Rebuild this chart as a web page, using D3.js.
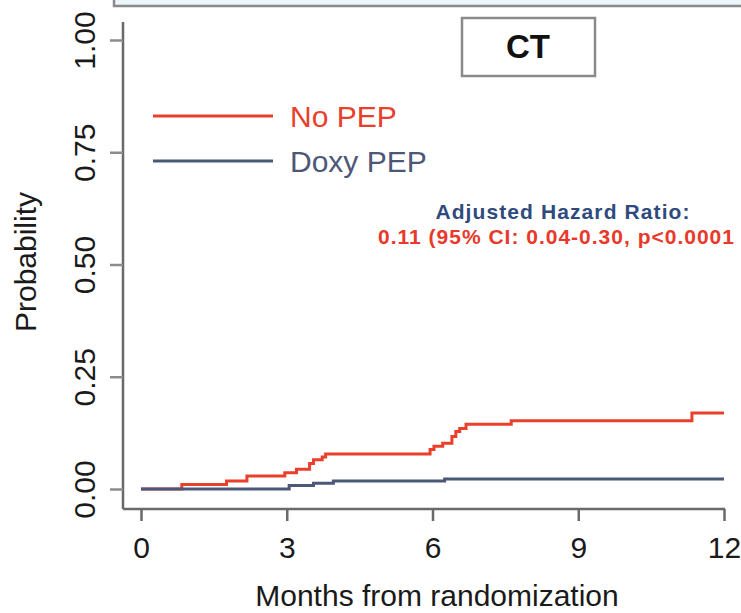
<!DOCTYPE html>
<html>
<head>
<meta charset="utf-8">
<script src="https://cdn.jsdelivr.net/npm/d3@7/dist/d3.min.js"></script>
<style>
  html, body { margin: 0; padding: 0; background: #ffffff; }
  svg { display: block; }
  text { font-family: "Liberation Sans", Arial, Helvetica, sans-serif; }
</style>
</head>
<body>
<div id="chart"></div>
<script>
// Cumulative incidence of CT, by arm (Kaplan-Meier style step curves)
const noPepMonths = [0, 0.84, 1.76, 2.18, 2.96, 3.2, 3.47, 3.55, 3.73, 3.8, 5.95, 6.03, 6.21, 6.4, 6.48, 6.56, 6.69, 7.62, 11.34, 12];
const noPepProb   = [0, 0.010, 0.018, 0.029, 0.036, 0.044, 0.057, 0.065, 0.071, 0.078, 0.088, 0.095, 0.102, 0.117, 0.128, 0.135, 0.144, 0.152, 0.169, 0.169];
const doxyMonths  = [0, 3.05, 3.55, 3.96, 6.25, 12];
const doxyProb    = [0, 0.008, 0.013, 0.018, 0.022, 0.022];

const seriesNames = ["No PEP", "Doxy PEP"];
const seriesColors = ["#ea3f2b", "#4d5778"];
const xTicks = [0, 3, 6, 9, 12];
const yTicks = [0, 0.25, 0.5, 0.75, 1];
const panelTitle = "CT";
const hrTitle = "Adjusted Hazard Ratio:";
const hrText = "0.11 (95% CI: 0.04-0.30, p<0.0001";

const W = 741, H = 613;
const svg = d3.select("#chart").append("svg").attr("width", W).attr("height", H);
svg.append("rect").attr("width", W).attr("height", H).attr("fill", "#ffffff");

const x = d3.scaleLinear().domain([0, 12]).range([141, 724]);
const y = d3.scaleLinear().domain([0, 1]).range([489, 40]);

const axisColor = "#6a6a6a";

// strip header of the panel above
svg.append("rect")
  .attr("x", 114).attr("y", -10).attr("width", W).attr("height", 16)
  .attr("fill", "#eaf6f8").attr("stroke", "#8a8a8a").attr("stroke-width", 2.5);

// spines
svg.append("line").attr("x1", 123).attr("x2", 123).attr("y1", 22).attr("y2", 509)
  .attr("stroke", axisColor).attr("stroke-width", 2.5);
svg.append("line").attr("x1", 123).attr("x2", 725).attr("y1", 509).attr("y2", 509)
  .attr("stroke", axisColor).attr("stroke-width", 2.5);

// y axis
const yAxis = svg.append("g").attr("transform", "translate(123,0)")
  .call(d3.axisLeft(y).tickValues(yTicks).tickSize(13).tickSizeOuter(0).tickFormat(d3.format(".2f")));
yAxis.select(".domain").remove();
yAxis.selectAll(".tick line").attr("stroke", "#8c8c8c").attr("stroke-width", 2.5);
yAxis.selectAll(".tick text")
  .attr("x", 0).attr("y", 0).attr("dy", 0)
  .attr("transform", "translate(-28,0) rotate(-90)")
  .attr("text-anchor", "middle")
  .attr("font-size", 30)
  .attr("fill", "#1a1a1a");

// x axis
const xAxis = svg.append("g").attr("transform", "translate(0,509)")
  .call(d3.axisBottom(x).tickValues(xTicks).tickSize(12).tickSizeOuter(0).tickFormat(d3.format("d")));
xAxis.select(".domain").remove();
xAxis.selectAll(".tick line").attr("stroke", axisColor).attr("stroke-width", 2.5);
xAxis.selectAll(".tick text")
  .attr("y", 49).attr("dy", 0)
  .attr("font-size", 30)
  .attr("fill", "#1a1a1a");

// axis titles
svg.append("text").attr("x", 437).attr("y", 606).attr("text-anchor", "middle")
  .attr("font-size", 30).attr("fill", "#1a1a1a").text("Months from randomization");
svg.append("text").attr("transform", "translate(36,262) rotate(-90)").attr("text-anchor", "middle")
  .attr("font-size", 30).attr("fill", "#1a1a1a").text("Probability");

// step curves
const line = d3.line().x(d => x(d[0])).y(d => y(d[1])).curve(d3.curveStepAfter);
const series = [
  d3.zip(doxyMonths, doxyProb),
  d3.zip(noPepMonths, noPepProb)
];
svg.append("path").datum(series[1]).attr("d", line)
  .attr("fill", "none").attr("stroke", seriesColors[0]).attr("stroke-width", 3);
svg.append("path").datum(series[0]).attr("d", line)
  .attr("fill", "none").attr("stroke", seriesColors[1]).attr("stroke-width", 3);

// legend
seriesNames.forEach((name, i) => {
  const ly = 116 + i * 45;
  svg.append("line").attr("x1", 153).attr("x2", 273).attr("y1", ly).attr("y2", ly)
    .attr("stroke", seriesColors[i]).attr("stroke-width", 3);
  svg.append("text").attr("x", 290).attr("y", ly + 11)
    .attr("font-size", 30).attr("fill", seriesColors[i]).text(name);
});

// panel label box
svg.append("rect").attr("x", 462).attr("y", 18).attr("width", 133).attr("height", 58)
  .attr("fill", "#ffffff").attr("stroke", "#8a8a8a").attr("stroke-width", 2.5);
svg.append("text").attr("x", 528).attr("y", 58).attr("text-anchor", "middle")
  .attr("font-size", 33).attr("font-weight", "bold").attr("fill", "#111111").text(panelTitle);

// hazard ratio annotation
svg.append("text").attr("x", 563).attr("y", 219).attr("text-anchor", "middle")
  .attr("font-size", 21).attr("letter-spacing", 1.1).attr("font-weight", "bold")
  .attr("fill", "#2f4a7c").text(hrTitle);
svg.append("text").attr("x", 378).attr("y", 244).attr("text-anchor", "start")
  .attr("font-size", 21).attr("letter-spacing", 1.0).attr("font-weight", "bold")
  .attr("fill", "#e8392a").text(hrText);
</script>
</body>
</html>
